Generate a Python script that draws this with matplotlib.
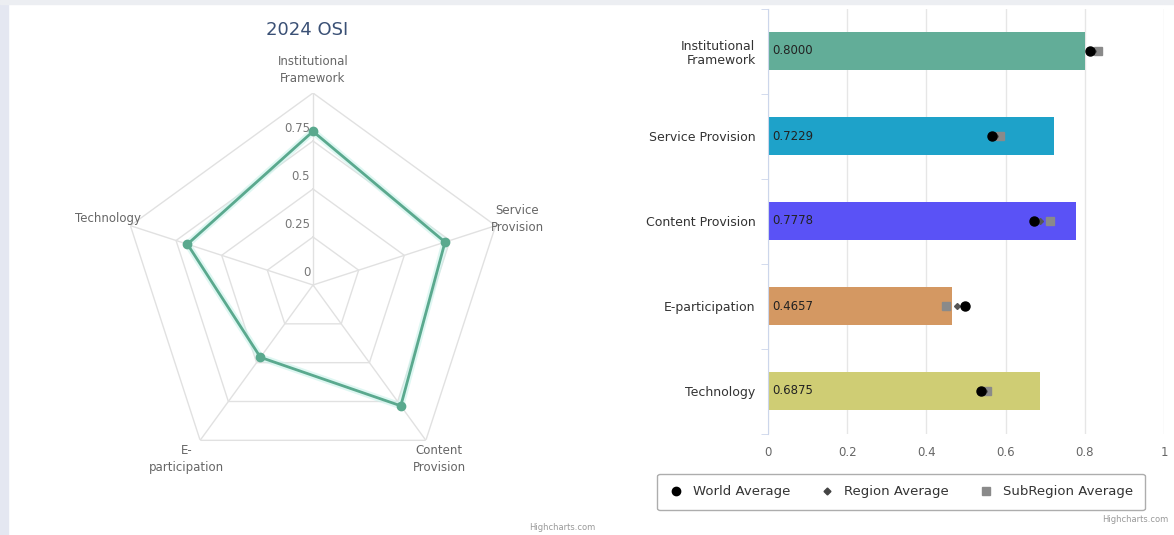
import numpy as np
import matplotlib
matplotlib.use('Agg')
import matplotlib.pyplot as plt
from matplotlib.patches import Rectangle
from matplotlib.lines import Line2D

plt.rcParams['font.family'] = ['DejaVu Sans']

# data
radar_labels = ['Institutional\nFramework', 'Service\nProvision', 'Content\nProvision',
                'E-\nparticipation', 'Technology']
radar_values = [0.8000, 0.7229, 0.7778, 0.4657, 0.6875]
radar_rings = [0.25, 0.5, 0.75, 1.0]
radar_ticks = [0, 0.25, 0.5, 0.75]
radar_tick_labels = ['0', '0.25', '0.5', '0.75']

bar_labels = ['Institutional\nFramework', 'Service Provision', 'Content Provision',
              'E-participation', 'Technology']
bar_values = [0.8000, 0.7229, 0.7778, 0.4657, 0.6875]
bar_colors = ['#62ad98', '#1ea2c9', '#5a52f6', '#d49862', '#cfcd74']
world_avg = [0.813, 0.566, 0.672, 0.497, 0.538]
region_avg = [0.820, 0.574, 0.688, 0.478, 0.545]
subregion_avg = [0.833, 0.585, 0.712, 0.450, 0.553]
x_ticks = [0, 0.2, 0.4, 0.6, 0.8, 1.0]
x_tick_labels = ['0', '0.2', '0.4', '0.6', '0.8', '1']

W, H = 1174, 535
fig = plt.figure(figsize=(W / 100, H / 100), dpi=100)
fig.patch.set_facecolor('white')

# background strips
fig.patches.append(Rectangle((0, 0), 8 / W, 1, transform=fig.transFigure,
                             color='#e4e7f1', zorder=0))
fig.patches.append(Rectangle((0, 1 - 4 / H), 1, 4 / H, transform=fig.transFigure,
                             color='#eceef2', zorder=0))

# ---- radar ----
cx, cy, R = 313, 285, 192
ax1 = fig.add_axes([(cx - R) / W, (H - cy - R) / H, 2 * R / W, 2 * R / H],
                   projection='polar')
ax1.set_theta_offset(np.pi / 2)
ax1.set_theta_direction(-1)
ax1.set_ylim(0, 1)
ax1.grid(False)
ax1.spines['polar'].set_visible(False)
ax1.set_xticks([])
ax1.set_yticks([])
ax1.patch.set_alpha(0)

n = len(radar_values)
theta = np.linspace(0, 2 * np.pi, n, endpoint=False)
th_closed = np.append(theta, theta[0])
for r in radar_rings:
    ax1.plot(th_closed, [r] * (n + 1), color='#e1e1e1', lw=1, zorder=1)
for t in theta:
    ax1.plot([t, t], [0, 1], color='#e1e1e1', lw=1, zorder=1)

vals = radar_values + radar_values[:1]
ax1.plot(th_closed, vals, color='#c8f2ea', lw=5, alpha=0.6, zorder=2)
ax1.plot(th_closed, vals, color='#5aa98e', lw=2, zorder=3)
ax1.plot(theta, radar_values, 'o', color='#5aa98e', ms=6, zorder=4)

for t, lab in zip(theta, radar_labels):
    ax1.text(t, 1.12, lab, ha='center', va='center', fontsize=8.5,
             color='#666666', linespacing=1.4)
for v, lab in zip(radar_ticks, radar_tick_labels):
    ax1.annotate(lab, (0, v), xytext=(-2, 4), textcoords='offset points',
                 ha='right', va='bottom', fontsize=8.5, color='#777777')

fig.text(307 / W, 1 - 30 / H, '2024 OSI', ha='center', va='center',
         fontsize=13, color='#3a5075')
fig.text(595 / W, 1 - 527 / H, 'Highcharts.com', ha='right', va='center',
         fontsize=6, color='#999999')

# ---- bar chart ----
left, right, top, bottom = 768, 1164, 8.5, 433.5
ax2 = fig.add_axes([left / W, (H - bottom) / H, (right - left) / W, (bottom - top) / H])
y = np.arange(len(bar_values))
ax2.barh(y, bar_values, height=0.45, color=bar_colors, zorder=2)
for yi, v in zip(y, bar_values):
    ax2.annotate(f'{v:.4f}', (0, yi), xytext=(3, 0), textcoords='offset points',
                 ha='left', va='center', fontsize=8.5, color='#222222', zorder=5)

ax2.plot(subregion_avg, y, 's', color='#8a8a8a', ms=6, zorder=3)
ax2.plot(region_avg, y, 'D', color='#555555', ms=3, zorder=3)
ax2.plot(world_avg, y, 'o', color='black', ms=6.5, zorder=4)

ax2.set_xlim(0, 1)
ax2.set_ylim(len(bar_values) - 0.5, -0.5)
ax2.set_xticks(x_ticks)
ax2.set_xticklabels(x_tick_labels, fontsize=8.5, color='#666666')
ax2.set_yticks(y)
ax2.set_yticklabels(bar_labels, fontsize=9, color='#333333', ha='right')
ax2.tick_params(axis='y', length=0, pad=9)
ax2.tick_params(axis='x', length=0, pad=9)
ax2.set_yticks(np.arange(-0.5, len(bar_values), 1), minor=True)
ax2.tick_params(axis='y', which='minor', length=5, color='#ccd6eb')
ax2.grid(axis='x', color='#e6e6e6', lw=1, zorder=0)
for s in ['top', 'right', 'bottom']:
    ax2.spines[s].set_visible(False)
ax2.spines['left'].set_color('#ccd6eb')

handles = [
    Line2D([], [], marker='o', color='black', ls='', ms=6),
    Line2D([], [], marker='D', color='#444444', ls='', ms=3.5),
    Line2D([], [], marker='s', color='#8a8a8a', ls='', ms=6),
]
leg = fig.legend(handles, ['World Average', 'Region Average', 'SubRegion Average'],
                 loc='center', bbox_to_anchor=(901 / W, 1 - 492 / H), ncol=3,
                 fontsize=9.5, frameon=True, fancybox=True, edgecolor='#999999',
                 handletextpad=0.8, columnspacing=2.3, handlelength=1.0,
                 borderpad=0.9, labelcolor='#333333')
leg.get_frame().set_linewidth(1)

fig.text(1168 / W, 1 - 520 / H, 'Highcharts.com', ha='right', va='center',
         fontsize=6, color='#999999')

fig.savefig('out.png', dpi=100)
